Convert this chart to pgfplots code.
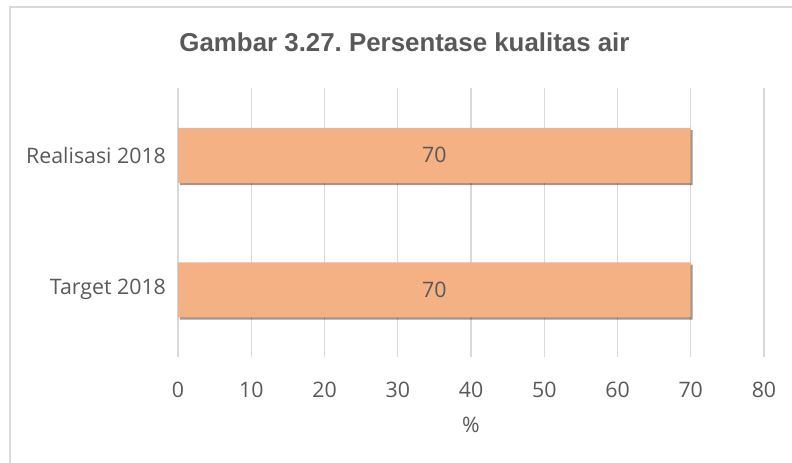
\documentclass[border=0pt]{standalone}
\usepackage{pgfplots}
\pgfplotsset{compat=1.18}
\usepackage{fontspec}
\setmainfont{Open Sans}
\newfontfamily\titlefont{Liberation Sans}
\usetikzlibrary{shadows}
\definecolor{txtc}{HTML}{595959}
\definecolor{gridc}{HTML}{D9D9D9}
\definecolor{barc}{HTML}{F4B183}
\frenchspacing
\begin{document}
\begin{tikzpicture}[x=0.75pt,y=0.75pt]
\path[use as bounding box] (0,0) rectangle (792,462);
\clip (0,0) rectangle (792,462);
\draw[gridc, line width=1pt] (10,-20) -- (10,455) -- (820,455);
\node[font=\titlefont\bfseries\fontsize{19.4}{21}\selectfont, text=txtc] at (404.5,420) {Gambar 3.27.\ Persentase kualitas air};
\begin{axis}[
  at={(178*0.75pt,105*0.75pt)}, anchor=south west,
  scale only axis, width=586*0.75pt, height=269*0.75pt,
  xmin=0, xmax=80, ymin=-0.5, ymax=1.5,
  xtick={0,10,...,80}, ytick={0,1},
  yticklabels={Target 2018, Realisasi 2018},
  xmajorgrids, grid style={draw=gridc, line width=0.9pt},
  axis line style={draw=none}, major tick style={draw=none},
  tick label style={font=\fontsize{16}{18}\selectfont, text=txtc},
  /pgf/number format/assume math mode=true,
  xticklabel style={yshift=-15pt},
  yticklabel style={xshift=-5.5pt},
  xlabel={\%}, xlabel style={font=\fontsize{16}{18}\selectfont, text=txtc, yshift=-8pt},
  clip=false,
]
\addplot[xbar, bar width=55*0.75pt, bar shift=0pt, fill=barc, draw=none,
  drop shadow={shadow xshift=1.5pt, shadow yshift=-1.8pt, opacity=0.4, fill=black}]
  coordinates {(70,0) (70,1)};
\addplot[draw=none, mark=none, nodes near coords, point meta=explicit symbolic,
  every node near coord/.style={anchor=center, font=\fontsize{16}{18}\selectfont, text=txtc}]
  coordinates {(35,0) [70] (35,1) [70]};
\end{axis}
\end{tikzpicture}
\end{document}
